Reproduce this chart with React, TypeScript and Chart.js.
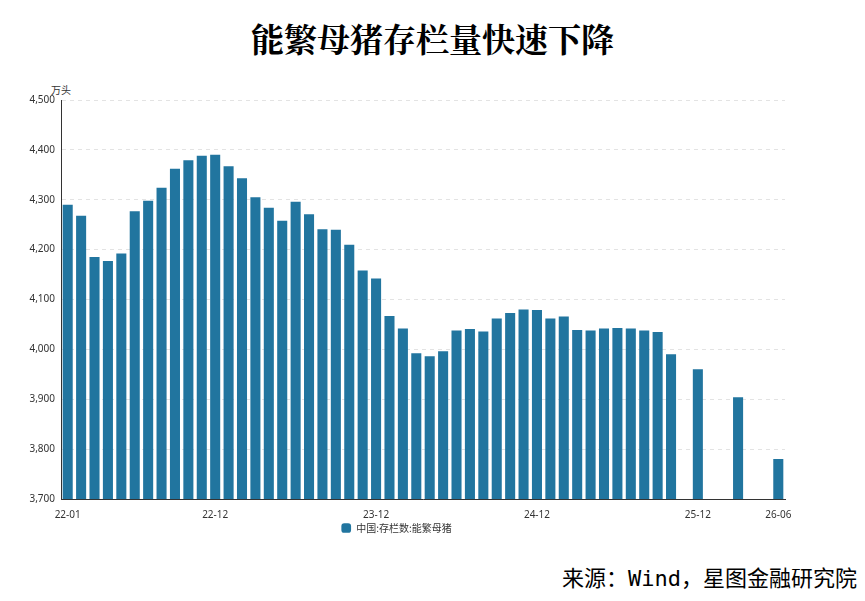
import React, { useEffect, useRef } from "react";
import { Chart, registerables } from "chart.js";
Chart.register(...registerables);

const months: string[] = [];
for (let y = 22; y <= 26; y++) for (let m = 1; m <= 12; m++) if (!(y === 26 && m > 6)) months.push(`${y}-${String(m).padStart(2, "0")}`);
const shownTicks = ["22-01", "22-12", "23-12", "24-12", "25-12", "26-06"];
const values: (number | null)[] = [
  4290, 4268, 4185, 4177, 4192, 4277, 4298, 4324, 4362, 4379, 4388, 4390,
  4367, 4343, 4305, 4284, 4258, 4296, 4271, 4241, 4240, 4210, 4158, 4142,
  4067, 4042, 3992, 3986, 3996, 4038, 4041, 4036, 4062, 4073, 4080, 4079,
  4062, 4066, 4039, 4038, 4042, 4043, 4042, 4038, 4035, 3990, null, 3960,
  null, null, 3904, null, null, 3780,
];
const seriesName = "中国:存栏数:能繁母猪";

export default function App() {
  const ref = useRef<HTMLCanvasElement>(null);
  useEffect(() => {
    const chart = new Chart(ref.current!, {
      type: "bar",
      data: { labels: months, datasets: [{ label: seriesName, data: values, backgroundColor: "#21759f", barPercentage: 0.75, categoryPercentage: 1 }] },
      options: {
        animation: false, responsive: false, maintainAspectRatio: false,
        layout: { padding: { left: 0, right: 72, top: 20, bottom: 0 } },
        plugins: {
          legend: { position: "bottom", labels: { usePointStyle: true, pointStyle: "rectRounded", boxWidth: 18, boxHeight: 8, padding: 0, font: { size: 10, family: "Noto Sans CJK SC" }, color: "#333" } },
          tooltip: { enabled: false },
        },
        scales: {
          x: {
            grid: { display: false },
            border: { color: "#333" },
            ticks: {
              autoSkip: false, maxRotation: 0, padding: 2, font: { size: 10, family: "Noto Sans" }, color: "#333",
              callback: (v: any, i: number) => (shownTicks.includes(months[i]) ? months[i] : ""),
            },
          },
          y: {
            min: 3700, max: 4500,
            afterFit: (s: any) => { s.width = 53; },
            grid: { color: "#e3e3e3", drawTicks: false },
            border: { color: "#333", dash: [4, 4] },
            ticks: { stepSize: 100, font: { size: 10, family: "Noto Sans" }, color: "#333", padding: 6, callback: (v: any) => Number(v).toLocaleString("en-US") },
          },
        },
      } as any,
    });
    return () => chart.destroy();
  }, []);
  return (
    <div style={{ position: "relative", width: 849, height: 585 }}>
      <div style={{ position: "absolute", top: 6, left: 0, width: 849, textAlign: "center", fontSize: 33, fontWeight: "bold", fontFamily: "'Noto Serif CJK SC', 'Noto Sans CJK SC'", color: "#000" }}>能繁母猪存栏量快速下降</div>
      <div style={{ position: "absolute", left: 43, top: 74, fontSize: 10, fontFamily: "Noto Sans CJK SC", color: "#333" }}>万头</div>
      <canvas ref={ref} width={849} height={463} style={{ position: "absolute", left: 0, top: 72 }} />
      <div style={{ position: "absolute", right: 0, top: 552, fontSize: 22, fontFamily: "'DejaVu Sans Mono', 'Noto Sans CJK SC'", color: "#000" }}>来源：Wind，星图金融研究院</div>
    </div>
  );
}
